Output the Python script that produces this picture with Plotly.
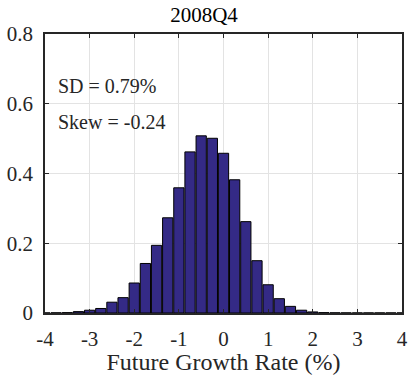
import plotly.graph_objects as go

bin_centers = [-4.0, -3.75, -3.5, -3.25, -3.0, -2.75, -2.5, -2.25, -2.0, -1.75, -1.5, -1.25,
               -1.0, -0.75, -0.5, -0.25, 0.0, 0.25, 0.5, 0.75, 1.0, 1.25, 1.5, 1.75,
               2.0, 2.25, 2.5, 2.75, 3.0, 3.25, 3.5, 3.75, 4.0]
density = [0.0002, 0.0005, 0.001, 0.004, 0.008, 0.013, 0.031, 0.044, 0.086, 0.142, 0.194, 0.273,
           0.359, 0.462, 0.508, 0.501, 0.458, 0.382, 0.262, 0.150, 0.081, 0.041, 0.019, 0.008,
           0.003, 0.001, 0.0005, 0.0003, 0.0002, 0.0002, 0.0002, 0.0002, 0.0002]

x_ticks = [-4, -3, -2, -1, 0, 1, 2, 3, 4]
x_tick_labels = ["-4", "-3", "-2", "-1", "0", "1", "2", "3", "4"]
y_ticks = [0, 0.2, 0.4, 0.6, 0.8]
y_tick_labels = ["0", "0.2", "0.4", "0.6", "0.8"]

title_text = "2008Q4"
x_label = "Future Growth Rate (%)"
stats_lines = ["SD = 0.79%", "Skew = -0.24"]

FONT = "Liberation Serif, Times New Roman, DejaVu Serif, serif"
AXC = "#262626"

fig = go.Figure()
fig.add_trace(go.Bar(
    x=bin_centers, y=density, width=0.23,
    marker=dict(color="#342a86", line=dict(color="black", width=1)),
    showlegend=False,
))

fig.update_layout(
    width=408, height=375,
    margin=dict(l=45, r=6, t=34, b=62),
    paper_bgcolor="white", plot_bgcolor="white",
    font=dict(family=FONT, color=AXC, size=21),
    title=dict(text=title_text, x=0.5, xanchor="center", y=1 - 15 / 375, yanchor="middle",
               font=dict(family=FONT, size=21, color="black")),
    xaxis=dict(range=[-4, 4], tickvals=x_ticks, ticktext=x_tick_labels, automargin=False,
               showline=True, mirror="ticks", linecolor=AXC, linewidth=1.5,
               ticks="inside", ticklen=4, tickcolor=AXC, ticklabelstandoff=6,
               showgrid=True, gridcolor="#e3e3e3", gridwidth=1, zeroline=False,
               title=dict(text=x_label, font=dict(family=FONT, size=24, color=AXC), standoff=4),
               tickfont=dict(family=FONT, size=21, color=AXC)),
    yaxis=dict(range=[0, 0.8], tickvals=y_ticks, ticktext=y_tick_labels, automargin=False,
               showline=True, mirror="ticks", linecolor=AXC, linewidth=1.5,
               ticks="inside", ticklen=4, tickcolor=AXC, ticklabelstandoff=6,
               showgrid=True, gridcolor="#e3e3e3", gridwidth=1, zeroline=False,
               tickfont=dict(family=FONT, size=21, color=AXC)),
)

for i, line in enumerate(stats_lines):
    fig.add_annotation(text=line, xref="paper", yref="paper",
                       x=0.03, y=0.814 - i * 0.131, xanchor="left", yanchor="middle",
                       showarrow=False, font=dict(family=FONT, size=20, color=AXC))

fig.write_html("out.html")
